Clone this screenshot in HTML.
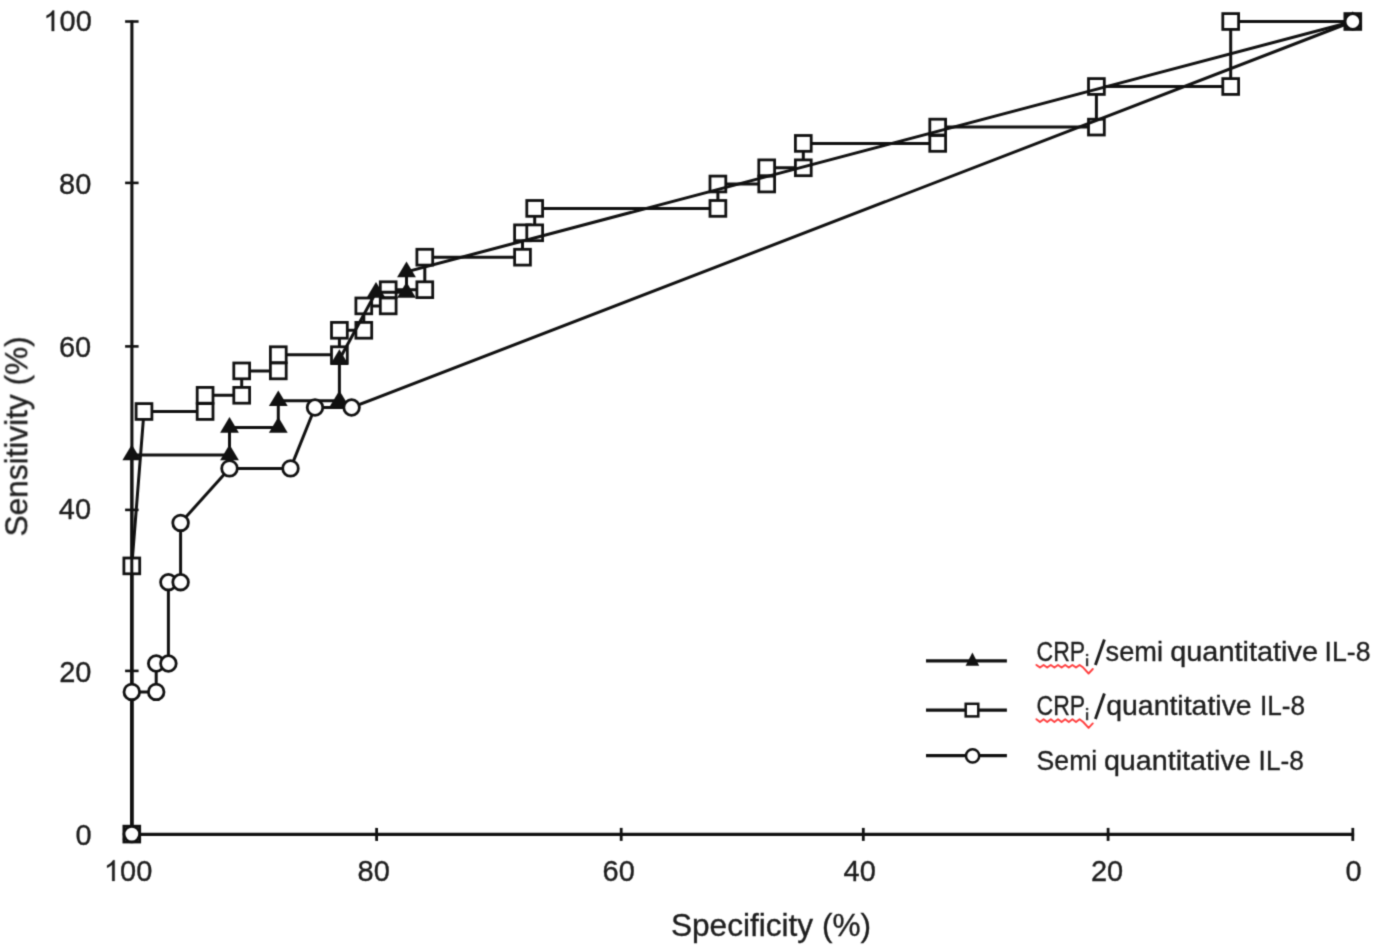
<!DOCTYPE html>
<html lang="en"><head><meta charset="utf-8"><title>ROC curves</title>
<style>html,body{margin:0;padding:0;background:#fff;}body{width:1379px;height:945px;overflow:hidden;}svg{display:block;}text{font-family:"Liberation Sans",sans-serif;fill:#1e1e1e;stroke:#1e1e1e;stroke-width:0.35px;}</style></head><body>
<svg width="1379" height="945" viewBox="0 0 1379 945">
<defs><filter id="soft" x="0" y="0" width="1379" height="945" filterUnits="userSpaceOnUse" color-interpolation-filters="sRGB"><feConvolveMatrix order="3" kernelMatrix="1 4 1 4 16 4 1 4 1" edgeMode="none" preserveAlpha="false"/></filter></defs>
<rect width="1379" height="945" fill="#fff"/>
<g filter="url(#soft)">
<g stroke="#111" fill="none">
<line x1="131.9" y1="20.4" x2="131.9" y2="835.5" stroke-width="3.1"/>
<line x1="131.8" y1="834.3" x2="1354.1" y2="834.3" stroke-width="3.2"/>
<line x1="125.1" y1="21.5" x2="138.6" y2="21.5" stroke-width="2.6"/>
<line x1="125.1" y1="182.9" x2="138.6" y2="182.9" stroke-width="2.6"/>
<line x1="125.1" y1="346.4" x2="138.6" y2="346.4" stroke-width="2.6"/>
<line x1="125.1" y1="509.9" x2="138.6" y2="509.9" stroke-width="2.6"/>
<line x1="125.1" y1="670.9" x2="138.6" y2="670.9" stroke-width="2.6"/>
<line x1="376.6" y1="827.9" x2="376.6" y2="840.9" stroke-width="2.8"/>
<line x1="621.2" y1="827.9" x2="621.2" y2="840.9" stroke-width="2.8"/>
<line x1="863.3" y1="827.9" x2="863.3" y2="840.9" stroke-width="2.8"/>
<line x1="1108.1" y1="827.9" x2="1108.1" y2="840.9" stroke-width="2.8"/>
<line x1="1352.8" y1="827.9" x2="1352.8" y2="840.9" stroke-width="2.8"/>
</g>
<path transform="translate(43.40,31.10) scale(0.01416,-0.01402)" d="M763 0L583 0L583 1147Q518 1085 412.5 1023Q307 961 223 930L223 1104Q374 1175 487 1276Q600 1377 647 1472L763 1472Z" fill="#1e1e1e" stroke="#1e1e1e" stroke-width="21.2"/><text transform="translate(59.53,31.10) scale(1,1.03)" font-size="29.00">00</text>
<text transform="translate(59.10,193.80) scale(1,1.03)" font-size="29.00">80</text>
<text transform="translate(59.00,356.80) scale(1,1.03)" font-size="29.00">60</text>
<text transform="translate(58.80,519.00) scale(1,1.03)" font-size="29.00">40</text>
<text transform="translate(59.20,681.50) scale(1,1.03)" font-size="29.00">20</text>
<text transform="translate(75.40,844.50) scale(1,1.03)" font-size="29.00">0</text>
<path transform="translate(103.90,880.90) scale(0.01416,-0.01402)" d="M763 0L583 0L583 1147Q518 1085 412.5 1023Q307 961 223 930L223 1104Q374 1175 487 1276Q600 1377 647 1472L763 1472Z" fill="#1e1e1e" stroke="#1e1e1e" stroke-width="21.2"/><text transform="translate(120.03,880.90) scale(1,1.03)" font-size="29.00">00</text>
<text transform="translate(357.60,880.90) scale(1,1.03)" font-size="29.00">80</text>
<text transform="translate(602.60,880.90) scale(1,1.03)" font-size="29.00">60</text>
<text transform="translate(843.60,880.90) scale(1,1.03)" font-size="29.00">40</text>
<text transform="translate(1091.00,880.90) scale(1,1.03)" font-size="29.00">20</text>
<text transform="translate(1345.50,880.90) scale(1,1.03)" font-size="29.00">0</text>
<text x="771.0" y="935.7" font-size="31.6" text-anchor="middle">Specificity (%)</text>
<text transform="translate(27.3,436.4) rotate(-90)" font-size="31.6" text-anchor="middle">Sensitivity (%)</text>
<g>
<polyline fill="none" stroke="#111" stroke-width="3.00" stroke-linejoin="miter" points="131.8,834.1 131.8,565.9 144.0,411.5 205.1,411.5 205.1,395.3 241.7,395.3 241.7,370.9 278.3,370.9 278.3,354.7 339.4,354.7 339.4,330.3 363.8,330.3 363.8,305.9 388.2,305.9 388.2,289.7 424.8,289.7 424.8,257.2 522.5,257.2 522.5,232.8 534.7,232.8 534.7,208.4 717.9,208.4 717.9,184.0 766.7,184.0 766.7,167.8 803.3,167.8 803.3,143.4 937.7,143.4 937.7,127.1 1096.4,127.1 1096.4,86.5 1230.7,86.5 1230.7,21.5 1352.8,21.5"/>
<rect x="123.9" y="826.2" width="15.8" height="15.8" fill="#fff" stroke="#111" stroke-width="2.8"/>
<rect x="123.9" y="558.0" width="15.8" height="15.8" fill="#fff" stroke="#111" stroke-width="2.8"/>
<rect x="136.1" y="403.6" width="15.8" height="15.8" fill="#fff" stroke="#111" stroke-width="2.8"/>
<rect x="197.2" y="403.6" width="15.8" height="15.8" fill="#fff" stroke="#111" stroke-width="2.8"/>
<rect x="197.2" y="387.4" width="15.8" height="15.8" fill="#fff" stroke="#111" stroke-width="2.8"/>
<rect x="233.8" y="387.4" width="15.8" height="15.8" fill="#fff" stroke="#111" stroke-width="2.8"/>
<rect x="233.8" y="363.0" width="15.8" height="15.8" fill="#fff" stroke="#111" stroke-width="2.8"/>
<rect x="270.4" y="363.0" width="15.8" height="15.8" fill="#fff" stroke="#111" stroke-width="2.8"/>
<rect x="270.4" y="346.8" width="15.8" height="15.8" fill="#fff" stroke="#111" stroke-width="2.8"/>
<rect x="331.5" y="346.8" width="15.8" height="15.8" fill="#fff" stroke="#111" stroke-width="2.8"/>
<rect x="331.5" y="322.4" width="15.8" height="15.8" fill="#fff" stroke="#111" stroke-width="2.8"/>
<rect x="355.9" y="322.4" width="15.8" height="15.8" fill="#fff" stroke="#111" stroke-width="2.8"/>
<rect x="355.9" y="298.0" width="15.8" height="15.8" fill="#fff" stroke="#111" stroke-width="2.8"/>
<rect x="380.3" y="298.0" width="15.8" height="15.8" fill="#fff" stroke="#111" stroke-width="2.8"/>
<rect x="380.3" y="281.8" width="15.8" height="15.8" fill="#fff" stroke="#111" stroke-width="2.8"/>
<rect x="416.9" y="281.8" width="15.8" height="15.8" fill="#fff" stroke="#111" stroke-width="2.8"/>
<rect x="416.9" y="249.3" width="15.8" height="15.8" fill="#fff" stroke="#111" stroke-width="2.8"/>
<rect x="514.6" y="249.3" width="15.8" height="15.8" fill="#fff" stroke="#111" stroke-width="2.8"/>
<rect x="514.6" y="224.9" width="15.8" height="15.8" fill="#fff" stroke="#111" stroke-width="2.8"/>
<rect x="526.8" y="224.9" width="15.8" height="15.8" fill="#fff" stroke="#111" stroke-width="2.8"/>
<rect x="526.8" y="200.5" width="15.8" height="15.8" fill="#fff" stroke="#111" stroke-width="2.8"/>
<rect x="710.0" y="200.5" width="15.8" height="15.8" fill="#fff" stroke="#111" stroke-width="2.8"/>
<rect x="710.0" y="176.1" width="15.8" height="15.8" fill="#fff" stroke="#111" stroke-width="2.8"/>
<rect x="758.8" y="176.1" width="15.8" height="15.8" fill="#fff" stroke="#111" stroke-width="2.8"/>
<rect x="758.8" y="159.9" width="15.8" height="15.8" fill="#fff" stroke="#111" stroke-width="2.8"/>
<rect x="795.4" y="159.9" width="15.8" height="15.8" fill="#fff" stroke="#111" stroke-width="2.8"/>
<rect x="795.4" y="135.5" width="15.8" height="15.8" fill="#fff" stroke="#111" stroke-width="2.8"/>
<rect x="929.8" y="135.5" width="15.8" height="15.8" fill="#fff" stroke="#111" stroke-width="2.8"/>
<rect x="929.8" y="119.2" width="15.8" height="15.8" fill="#fff" stroke="#111" stroke-width="2.8"/>
<rect x="1088.5" y="119.2" width="15.8" height="15.8" fill="#fff" stroke="#111" stroke-width="2.8"/>
<rect x="1088.5" y="78.6" width="15.8" height="15.8" fill="#fff" stroke="#111" stroke-width="2.8"/>
<rect x="1222.8" y="78.6" width="15.8" height="15.8" fill="#fff" stroke="#111" stroke-width="2.8"/>
<rect x="1222.8" y="13.6" width="15.8" height="15.8" fill="#fff" stroke="#111" stroke-width="2.8"/>
<rect x="1344.9" y="13.6" width="15.8" height="15.8" fill="#fff" stroke="#111" stroke-width="2.8"/>
</g><g>
<polyline fill="none" stroke="#111" stroke-width="3.00" stroke-linejoin="miter" points="131.8,834.1 131.8,454.9 229.5,454.9 229.5,427.4 278.3,427.4 278.3,400.7 339.4,400.7 339.4,359.5 376.0,292.3 406.5,292.3 406.5,271.8 1352.8,21.5"/>
<polygon fill="#111" points="131.8,823.8 141.2,839.5 122.4,839.5"/>
<polygon fill="#111" points="131.8,444.6 141.2,460.3 122.4,460.3"/>
<polygon fill="#111" points="229.5,444.6 238.9,460.3 220.1,460.3"/>
<polygon fill="#111" points="229.5,417.1 238.9,432.8 220.1,432.8"/>
<polygon fill="#111" points="278.3,417.1 287.7,432.8 268.9,432.8"/>
<polygon fill="#111" points="278.3,390.4 287.7,406.1 268.9,406.1"/>
<polygon fill="#111" points="339.4,390.4 348.8,406.1 330.0,406.1"/>
<polygon fill="#111" points="339.4,349.2 348.8,364.9 330.0,364.9"/>
<polygon fill="#111" points="376.0,282.0 385.4,297.7 366.6,297.7"/>
<polygon fill="#111" points="406.5,282.0 415.9,297.7 397.1,297.7"/>
<polygon fill="#111" points="406.5,261.5 415.9,277.2 397.1,277.2"/>
<polygon fill="#111" points="1352.8,11.2 1362.2,26.9 1343.4,26.9"/>
</g><g>
<polyline fill="none" stroke="#111" stroke-width="3.00" stroke-linejoin="miter" points="131.8,834.1 131.8,691.9 156.2,691.9 156.2,663.5 168.4,663.5 168.4,582.2 180.6,582.2 180.6,522.9 229.5,468.4 290.5,468.4 315.0,407.5 351.6,407.5 1352.8,21.5"/>
<circle cx="131.8" cy="834.1" r="7.8" fill="#fff" stroke="#111" stroke-width="2.8"/>
<circle cx="131.8" cy="691.9" r="7.8" fill="#fff" stroke="#111" stroke-width="2.8"/>
<circle cx="156.2" cy="691.9" r="7.8" fill="#fff" stroke="#111" stroke-width="2.8"/>
<circle cx="156.2" cy="663.5" r="7.8" fill="#fff" stroke="#111" stroke-width="2.8"/>
<circle cx="168.4" cy="663.5" r="7.8" fill="#fff" stroke="#111" stroke-width="2.8"/>
<circle cx="168.4" cy="582.2" r="7.8" fill="#fff" stroke="#111" stroke-width="2.8"/>
<circle cx="180.6" cy="582.2" r="7.8" fill="#fff" stroke="#111" stroke-width="2.8"/>
<circle cx="180.6" cy="522.9" r="7.8" fill="#fff" stroke="#111" stroke-width="2.8"/>
<circle cx="229.5" cy="468.4" r="7.8" fill="#fff" stroke="#111" stroke-width="2.8"/>
<circle cx="290.5" cy="468.4" r="7.8" fill="#fff" stroke="#111" stroke-width="2.8"/>
<circle cx="315.0" cy="407.5" r="7.8" fill="#fff" stroke="#111" stroke-width="2.8"/>
<circle cx="351.6" cy="407.5" r="7.8" fill="#fff" stroke="#111" stroke-width="2.8"/>
<circle cx="1352.8" cy="21.5" r="7.8" fill="#fff" stroke="#111" stroke-width="2.8"/>
</g>
<g stroke="#111" stroke-width="3.2">
<line x1="926" y1="660.8" x2="1006.9" y2="660.8"/>
<line x1="926" y1="710.1" x2="1006.9" y2="710.1"/>
<line x1="926" y1="755.7" x2="1006.9" y2="755.7"/>
</g>
<polygon fill="#111" points="972.4,652.4 979.2,665.8 965.6,665.8"/>
<rect x="965.7" y="703.8" width="12.6" height="12.6" fill="#fff" stroke="#111" stroke-width="2.5"/>
<circle cx="972.6" cy="755.9" r="6.6" fill="#fff" stroke="#111" stroke-width="2.5"/>
<text x="1036.6" y="661.2" font-size="27.5" textLength="48.6" lengthAdjust="spacingAndGlyphs" stroke="#1e1e1e" stroke-width="1.20">CRP</text>
<text x="1105.6" y="661.2" font-size="27.5" textLength="57.4" lengthAdjust="spacingAndGlyphs" stroke="#1e1e1e" stroke-width="1.20">semi</text>
<text x="1170.2" y="661.2" font-size="27.5" textLength="147.8" lengthAdjust="spacingAndGlyphs" stroke="#1e1e1e" stroke-width="1.20">quantitative</text>
<text x="1324.6" y="661.2" font-size="27.5" textLength="46.0" lengthAdjust="spacingAndGlyphs" stroke="#1e1e1e" stroke-width="1.20">IL-8</text>
<text x="1036.6" y="715.2" font-size="27.5" textLength="48.6" lengthAdjust="spacingAndGlyphs" stroke="#1e1e1e" stroke-width="1.20">CRP</text>
<text x="1106.2" y="715.2" font-size="27.5" textLength="145.5" lengthAdjust="spacingAndGlyphs" stroke="#1e1e1e" stroke-width="1.20">quantitative</text>
<text x="1260.0" y="715.2" font-size="27.5" textLength="45.2" lengthAdjust="spacingAndGlyphs" stroke="#1e1e1e" stroke-width="1.20">IL-8</text>
<text x="1036.6" y="770.0" font-size="27.5" textLength="60.6" lengthAdjust="spacingAndGlyphs" stroke="#1e1e1e" stroke-width="1.20">Semi</text>
<text x="1103.9" y="770.0" font-size="27.5" textLength="146.8" lengthAdjust="spacingAndGlyphs" stroke="#1e1e1e" stroke-width="1.20">quantitative</text>
<text x="1258.6" y="770.0" font-size="27.5" textLength="45.2" lengthAdjust="spacingAndGlyphs" stroke="#1e1e1e" stroke-width="1.20">IL-8</text>
<line x1="1095.4" y1="665.1" x2="1104.4" y2="639.6" stroke="#1e1e1e" stroke-width="2.9"/>
<g fill="#3a3a3a"><circle cx="1087.1" cy="655.0" r="1.35"/><rect x="1085.95" y="658.2" width="2.3" height="8.0"/></g>
<line x1="1095.4" y1="719.1" x2="1104.4" y2="693.6" stroke="#1e1e1e" stroke-width="2.9"/>
<g fill="#3a3a3a"><circle cx="1087.1" cy="709.0" r="1.35"/><rect x="1085.95" y="712.2" width="2.3" height="8.0"/></g>
<path d="M1036.4 664.9 L1040.0 667.6 L1043.6 664.9 L1047.2 667.6 L1050.8 664.9 L1054.4 667.6 L1058.0 664.9 L1061.6 667.6 L1065.2 664.9 L1068.8 667.6 L1072.4 664.9 L1076.0 667.6 L1079.6 664.9 L1083.2 667.6 L1088.6 673.5 L1092.8 669.0" fill="none" stroke="#ff3f3f" stroke-width="1.9" stroke-linejoin="round" stroke-linecap="round"/>
<path d="M1036.4 719.2 L1040.0 722.0 L1043.6 719.2 L1047.2 722.0 L1050.8 719.2 L1054.4 722.0 L1058.0 719.2 L1061.6 722.0 L1065.2 719.2 L1068.8 722.0 L1072.4 719.2 L1076.0 722.0 L1079.6 719.2 L1083.2 722.0 L1088.6 727.9 L1092.8 723.4" fill="none" stroke="#ff3f3f" stroke-width="1.9" stroke-linejoin="round" stroke-linecap="round"/>
</g>
</svg></body></html>
